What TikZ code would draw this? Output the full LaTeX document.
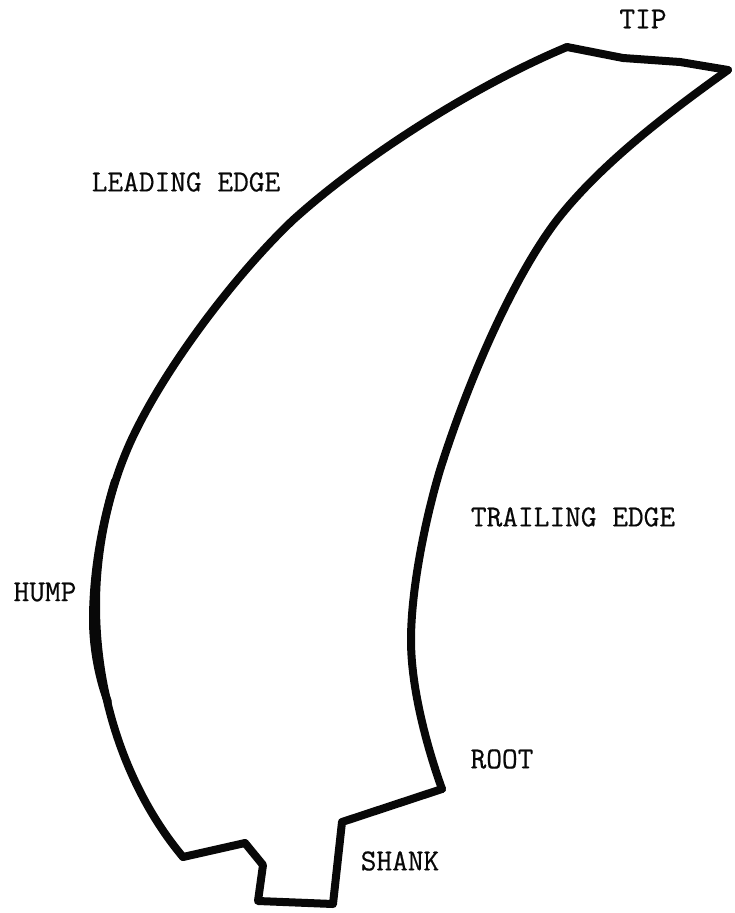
\documentclass[tikz,border=0pt]{standalone}
\usepackage{fontspec}
\setmonofont[FakeBold=0.5]{Latin Modern Mono}
\usepackage{xcolor}
\usepackage{tikz}
\definecolor{InkBlack}{RGB}{8,8,8}
\tikzset{
	outline/.style={line width=8pt, InkBlack, line join=round, line cap=round},
	partlabel/.style={font=\fontsize{30.5pt}{32pt}\selectfont\ttfamily, InkBlack, inner sep=0pt}
}
\begin{document}
\begin{tikzpicture}[x=1pt, y=-1pt]
		\useasboundingbox (0,0) rectangle (734,913);
		% leading edge
		\draw[outline] (567,47) .. controls (476,85) and (365,155) .. (293,220)
			.. controls (235,275) and (163,370) .. (130,443)
			.. controls (108,492) and (96,550) .. (96,605)
			.. controls (96,710) and (135,800) .. (183,857);
		% hump, a little heavier
		\draw[outline] (115,481) .. controls (103,520) and (93,570) .. (93,620)
			.. controls (93,650) and (100,682) .. (108,702);
		% trailing edge
		\draw[outline] (728,70) .. controls (665,115) and (600,165) .. (557,220)
			.. controls (515,275) and (470,375) .. (440,470)
			.. controls (425,520) and (411,590) .. (411,640)
			.. controls (411,690) and (428,750) .. (442,789);
		% shank and tip
		\draw[outline] (183,857) -- (245,843) -- (263,865) -- (258,901) -- (333,904) -- (342,822) -- (442,789);
		\draw[outline] (567,47) -- (623,58) -- (680,62) -- (728,70);
		% labels
		\node[partlabel] (tip) at (643,19) {TIP};
		\node[partlabel] (leading) at (186,182) {LEADING EDGE};
		\node[partlabel] (trailing) at (573,517) {TRAILING EDGE};
		\node[partlabel] (hump) at (45,592) {HUMP};
		\node[partlabel] (root) at (502,759) {ROOT};
		\node[partlabel] (shank) at (400,861) {SHANK};
	\end{tikzpicture}
\end{document}
